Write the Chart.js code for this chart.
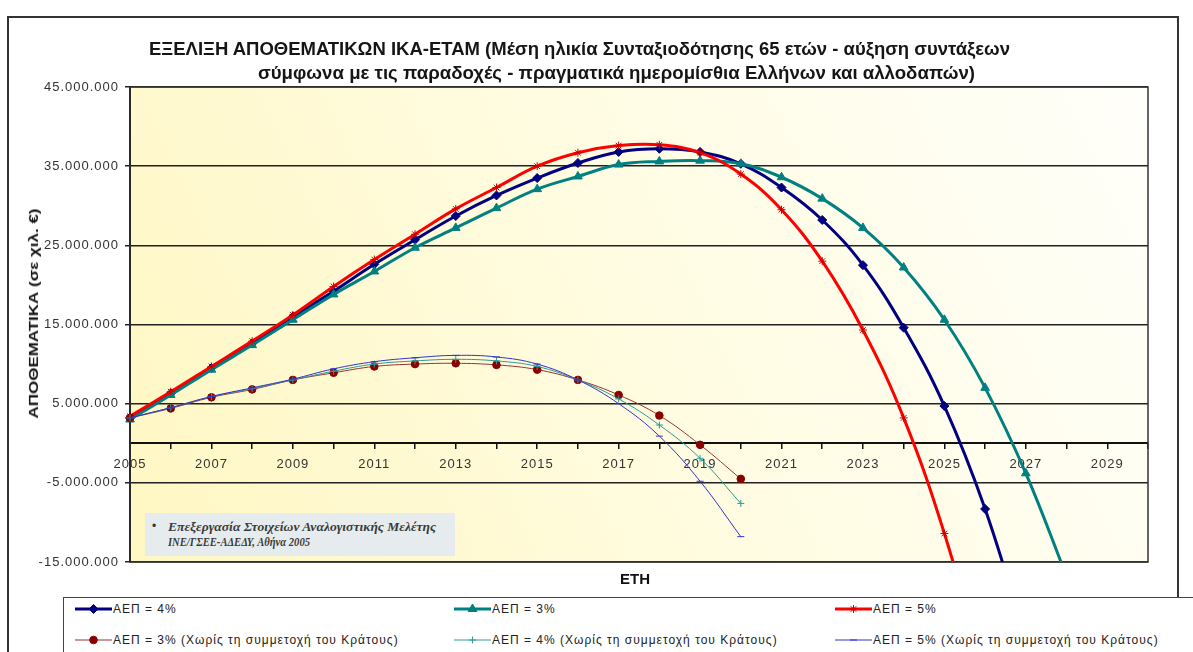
<!DOCTYPE html>
<html><head><meta charset="utf-8">
<script src="https://cdn.jsdelivr.net/npm/chart.js@4.4.1/dist/chart.umd.min.js"></script>
<style>
html,body{margin:0;padding:0;background:#fff;}
#wrap{position:relative;width:1193px;height:652px;overflow:hidden;font-family:"Liberation Sans",Arial,sans-serif;background:#fff;}
#frame{position:absolute;left:7px;top:16px;width:1172px;height:700px;border:2px solid #333;box-sizing:border-box;}
#c{position:absolute;left:0;top:0;}
.abs{position:absolute;white-space:nowrap;line-height:1;}
.title{font-family:"Liberation Sans Narrow","Arial Narrow","Liberation Sans",sans-serif;font-weight:bold;font-size:19px;color:#151515;transform-origin:left center;}
#ytitle{font-weight:bold;font-size:13px;color:#111;transform-origin:center center;}
#xtitle{font-weight:bold;font-size:15px;color:#111;}
#note{left:145px;top:513px;width:310px;height:43px;background:#E6ECEE;}
.notetxt{font-family:"Liberation Serif","Times New Roman",serif;font-style:italic;font-weight:bold;font-size:12px;color:#3a3a3a;transform-origin:left center;}
#legbox{position:absolute;left:63px;top:597px;width:1200px;height:80px;border:1px solid #444;background:#fff;}
.legtxt{font-size:12px;letter-spacing:1px;color:#222;}
</style></head><body>
<div id="wrap">
  <div id="frame"></div>
  <canvas id="c" width="1193" height="652"></canvas>
  <div class="abs title fit" data-w="861" style="left:149px;top:39px;">ΕΞΕΛΙΞΗ ΑΠΟΘΕΜΑΤΙΚΩΝ ΙΚΑ-ΕΤΑΜ (Μέση ηλικία Συνταξιοδότησης 65 ετών - αύξηση συντάξεων</div>
  <div class="abs title fit" data-w="717" style="left:258px;top:63px;">σύμφωνα με τις παραδοχές - πραγματικά ημερομίσθια Ελλήνων και αλλοδαπών)</div>
  <div class="abs" id="ytitle">ΑΠΟΘΕΜΑΤΙΚΑ (σε χιλ. €)</div>
  <div class="abs" id="xtitle" style="left:620px;top:571px;">ΕΤΗ</div>
  <div class="abs" id="note"></div>
  <div class="abs" style="left:152px;top:520px;font-size:12px;color:#333;">•</div>
  <div class="abs notetxt fit" data-w="268" style="left:168px;top:521px;">Επεξεργασία Στοιχείων Αναλογιστικής Μελέτης</div>
  <div class="abs notetxt fit" data-w="142" style="left:168px;top:536px;">ΙΝΕ/ΓΣΕΕ-ΑΔΕΔΥ, Αθήνα 2005</div>
  <div id="legbox"></div>
  <div id="legend"></div>
</div>
<script>
// ---------- DATA ----------
const years = ['2005','2006','2007','2008','2009','2010','2011','2012','2013','2014','2015','2016','2017','2018','2019','2020','2021','2022','2023','2024','2025','2026','2027','2028','2029','2030'];
const xTickLabels = ['2005','2007','2009','2011','2013','2015','2017','2019','2021','2023','2025','2027','2029'];
const yTickValues = [-15000000, -5000000, 5000000, 15000000, 25000000, 35000000, 45000000];
const yTickLabels = ['-15.000.000','-5.000.000','5.000.000','15.000.000','25.000.000','35.000.000','45.000.000'];

const seriesNames = ['ΑΕΠ = 4%','ΑΕΠ = 3%','ΑΕΠ = 5%','ΑΕΠ = 3% (Χωρίς τη συμμετοχή του Κράτους)','ΑΕΠ = 4% (Χωρίς τη συμμετοχή του Κράτους)','ΑΕΠ = 5% (Χωρίς τη συμμετοχή του Κράτους)'];

const gdp4 = [3200000, 6300000, 9500000, 12600000, 16000000, 19200000, 22600000, 25700000, 28700000, 31300000, 33500000, 35400000, 36800000, 37200000, 36800000, 35300000, 32300000, 28200000, 22500000, 14600000, 4700000, -8300000, -24800000];
const gdp3 = [3000000, 6100000, 9300000, 12400000, 15600000, 18800000, 21700000, 24700000, 27200000, 29700000, 32100000, 33700000, 35200000, 35600000, 35700000, 35300000, 33600000, 30900000, 27200000, 22200000, 15600000, 7000000, -3800000, -16800000];
const gdp5 = [3400000, 6500000, 9700000, 12900000, 16200000, 19800000, 23200000, 26400000, 29600000, 32300000, 35000000, 36700000, 37600000, 37700000, 36700000, 34000000, 29500000, 23000000, 14300000, 3200000, -11400000, -29500000];
const gdp3NoState = [3200000, 4400000, 5800000, 6800000, 8000000, 8900000, 9700000, 10000000, 10100000, 9900000, 9300000, 8000000, 6100000, 3500000, -200000, -4500000];
const gdp4NoState = [3200000, 4500000, 5900000, 6900000, 8000000, 9100000, 10000000, 10400000, 10600000, 10400000, 9700000, 8000000, 5600000, 2300000, -1900000, -7600000];
const gdp5NoState = [3200000, 4500000, 5900000, 7000000, 8100000, 9400000, 10300000, 10800000, 11100000, 10900000, 10000000, 8000000, 5000000, 900000, -4800000, -11800000];

// ---------- STYLES ----------
const styles = [
  {color:'#000080', width:3, pointStyle:'rectRot', radius:4.5, pbg:'#000080', pbw:1},
  {color:'#008080', width:3, pointStyle:'triangle', radius:5, pbg:'#008080', pbw:1},
  {color:'#FF0000', width:3, pointStyle:'star', radius:4, pbg:'#FF0000', pbw:1, pborder:'#CC0000'},
  {color:'#993333', width:1, pointStyle:'circle', radius:3.8, pbg:'#8B0000', pbw:1, pborder:'#8B0000'},
  {color:'#2E9A96', width:1, pointStyle:'cross', radius:3.5, pbg:'#2E9A96', pbw:1},
  {color:'#3333CC', width:1, pointStyle:'line', radius:3.5, pbg:'#3333CC', pbw:1}
];
const seriesData = [gdp4, gdp3, gdp5, gdp3NoState, gdp4NoState, gdp5NoState];

const datasets = seriesData.map((d, i) => ({
  label: seriesNames[i],
  data: d,
  borderColor: styles[i].color,
  backgroundColor: styles[i].pbg,
  borderWidth: styles[i].width,
  pointStyle: styles[i].pointStyle,
  pointRadius: styles[i].radius,
  pointHoverRadius: styles[i].radius,
  pointBackgroundColor: styles[i].pbg,
  pointBorderColor: styles[i].pborder || styles[i].color,
  pointBorderWidth: styles[i].pbw,
  tension: 0.4,
  fill: false,
  order: 6 - i
}));

const plotDeco = {
  id: 'plotDeco',
  beforeUpdate(chart){ chart.ctx.letterSpacing = '1px'; },
  beforeDraw(chart){
    const {ctx, chartArea:a} = chart;
    const g = ctx.createLinearGradient(a.left, a.bottom, a.right, a.top);
    g.addColorStop(0, '#FFF7C2');
    g.addColorStop(0.55, '#FFFCE4');
    g.addColorStop(1, '#FFFFFA');
    ctx.save();
    ctx.fillStyle = g;
    ctx.fillRect(a.left, a.top, a.right - a.left, a.bottom - a.top);
    ctx.restore();
  },
  beforeDatasetsDraw(chart){
    const {ctx, chartArea:a} = chart;
    ctx.save();
    ctx.strokeStyle = '#333';
    ctx.lineWidth = 1.5;
    ctx.strokeRect(a.left, a.top, a.right - a.left, a.bottom - a.top);
    ctx.restore();
  }
};

const chart = new Chart(document.getElementById('c'), {
  type: 'line',
  data: { labels: years, datasets },
  options: {
    responsive: false,
    devicePixelRatio: 1,
    animation: false,
    events: [],
    layout: { padding: { left: 0, top: 87, right: 45, bottom: 90 } },
    plugins: { legend: { display: false }, title: { display: false }, tooltip: { enabled: false } },
    scales: {
      x: {
        type: 'category',
        position: { y: 0 },
        offset: false,
        grid: { display: true, drawOnChartArea: false, drawTicks: true, tickLength: 5, color: '#111', lineWidth: 1.5 },
        border: { display: true, color: '#111', width: 2 },
        ticks: {
          autoSkip: false, maxRotation: 0, minRotation: 0, padding: 8,
          color: '#333', font: { family: 'Liberation Sans', size: 13 },
          callback: (v, i) => xTickLabels.includes(years[i]) ? years[i] : ''
        }
      },
      y: {
        min: -15000000, max: 45000000,
        afterBuildTicks: s => { s.ticks = yTickValues.map(v => ({ value: v })); },
        afterFit: s => { s.width = 130; },
        grid: { color: '#222', lineWidth: 1.5, tickLength: 5, drawTicks: true },
        border: { display: true, color: '#111', width: 2 },
        ticks: {
          padding: 6, color: '#333', font: { family: 'Liberation Sans', size: 13 },
          callback: v => yTickLabels[yTickValues.indexOf(v)]
        }
      }
    }
  },
  plugins: [plotDeco]
});

// ---------- HTML legend ----------
const legCols = [75, 454, 835];
const legRows = [609, 640];
const legend = document.getElementById('legend');
datasets.forEach((ds, i) => {
  const col = i % 3, row = Math.floor(i / 3);
  const sym = document.createElement('canvas');
  sym.width = 37; sym.height = 14;
  sym.style.position = 'absolute';
  sym.style.left = legCols[col] + 'px';
  sym.style.top = (legRows[row] - 7) + 'px';
  const c = sym.getContext('2d');
  c.strokeStyle = ds.borderColor; c.lineWidth = ds.borderWidth;
  c.beginPath(); c.moveTo(0, 7); c.lineTo(37, 7); c.stroke();
  c.fillStyle = ds.pointBackgroundColor; c.strokeStyle = ds.pointBorderColor; c.lineWidth = ds.pointBorderWidth;
  Chart.helpers.drawPoint(c, { pointStyle: ds.pointStyle, radius: ds.pointRadius, rotation: 0, borderWidth: ds.pointBorderWidth }, 18.5, 7);
  legend.appendChild(sym);
  const t = document.createElement('div');
  t.className = 'abs legtxt';
  t.style.left = (legCols[col] + 38) + 'px';
  t.style.top = (legRows[row] - 6) + 'px';
  t.textContent = ds.label;
  legend.appendChild(t);
});

// ---------- fit text widths ----------
function fitAll(){
  document.querySelectorAll('.fit').forEach(el => {
    el.style.transform = 'none';
    const w = el.getBoundingClientRect().width;
    el.style.transform = 'scaleX(' + (parseFloat(el.dataset.w) / w) + ')';
  });
  const yt = document.getElementById('ytitle');
  yt.style.transform = 'none';
  const w = yt.getBoundingClientRect().width, h = yt.getBoundingClientRect().height;
  yt.style.left = (33 - w / 2) + 'px';
  yt.style.top = (313 - h / 2) + 'px';
  yt.style.transform = 'rotate(-90deg) scaleX(' + (210 / w) + ')';
}
fitAll();
if (document.fonts && document.fonts.ready) document.fonts.ready.then(fitAll);
</script>
</body></html>
